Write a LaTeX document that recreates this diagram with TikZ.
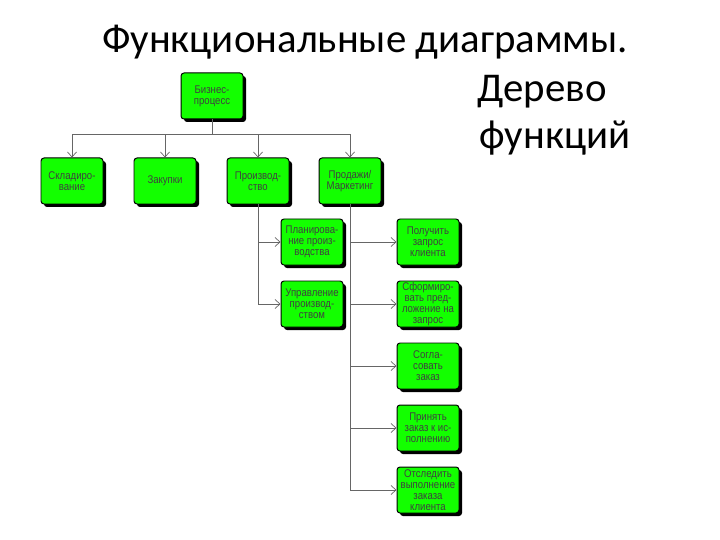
\documentclass[tikz,border=0pt]{standalone}
\usepackage{fontspec}
\setmainfont{Carlito}
\newfontfamily\boxfont[FakeStretch=0.86]{Liberation Sans}
\usetikzlibrary{arrows.meta, shadows}

\begin{document}
\begin{tikzpicture}[x=1bp, y=-1bp,
    func/.style={draw=black, line width=1pt, rounded corners=3bp, fill=green!90!lime,
        minimum width=62bp, minimum height=46bp, inner sep=1bp, align=center,
        text=black!75, font=\boxfont\fontsize{11.2}{11}\selectfont,
        drop shadow={shadow xshift=3bp, shadow yshift=-3bp, fill=black, opacity=1}},
    link/.style={draw=black!60, line width=0.7pt, -{Straight Barb[length=5bp, width=9bp]}}]
    \useasboundingbox (0,0) rectangle (720,540);
    % title
    \node[font=\fontsize{41}{46}\selectfont] (title) at (365,42) {Функциональные диаграммы.};
    \node[font=\fontsize{41}{46}\selectfont, anchor=west] (tree1) at (474,92) {Дерево};
    \node[font=\fontsize{41}{46}\selectfont, anchor=west] (tree2) at (476,138) {функций};
    % top level
    \node[func] (biz) at (212,96) {Бизнес-\\процесс};
    \node[func] (sklad) at (72,181) {Складиро-\\вание};
    \node[func] (zakup) at (165,181) {Закупки};
    \node[func] (proizv) at (258,181) {Производ-\\ство};
    \node[func] (prodazh) at (350,181) {Продажи/\\Маркетинг};
    \draw[link] (biz.south) -- ++(0,15) -| (sklad.north);
    \draw[link] (biz.south) -- ++(0,15) -| (zakup.north);
    \draw[link] (biz.south) -- ++(0,15) -| (proizv.north);
    \draw[link] (biz.south) -- ++(0,15) -| (prodazh.north);
    % production
    \node[func] (plan) at (312,242) {Планирова-\\ние произ-\\водства};
    \node[func] (upr) at (312,304) {Управление\\производ-\\ством};
    \draw[link] (proizv.south) |- (plan.west);
    \draw[link] (proizv.south) |- (upr.west);
    % sales
    \node[func] (zapros) at (428,242) {Получить\\запрос\\клиента};
    \node[func] (predl) at (428,304) {Сформиро-\\вать пред-\\ложение на\\запрос};
    \node[func] (sogl) at (428,366) {Согла-\\совать\\заказ};
    \node[func] (prinyat) at (428,428) {Принять\\заказ к ис-\\полнению};
    \node[func] (otsled) at (428,490) {Отследить\\выполнение\\заказа\\клиента};
    \draw[link] (prodazh.south) |- (zapros.west);
    \draw[link] (prodazh.south) |- (predl.west);
    \draw[link] (prodazh.south) |- (sogl.west);
    \draw[link] (prodazh.south) |- (prinyat.west);
    \draw[link] (prodazh.south) |- (otsled.west);
\end{tikzpicture}
\end{document}
